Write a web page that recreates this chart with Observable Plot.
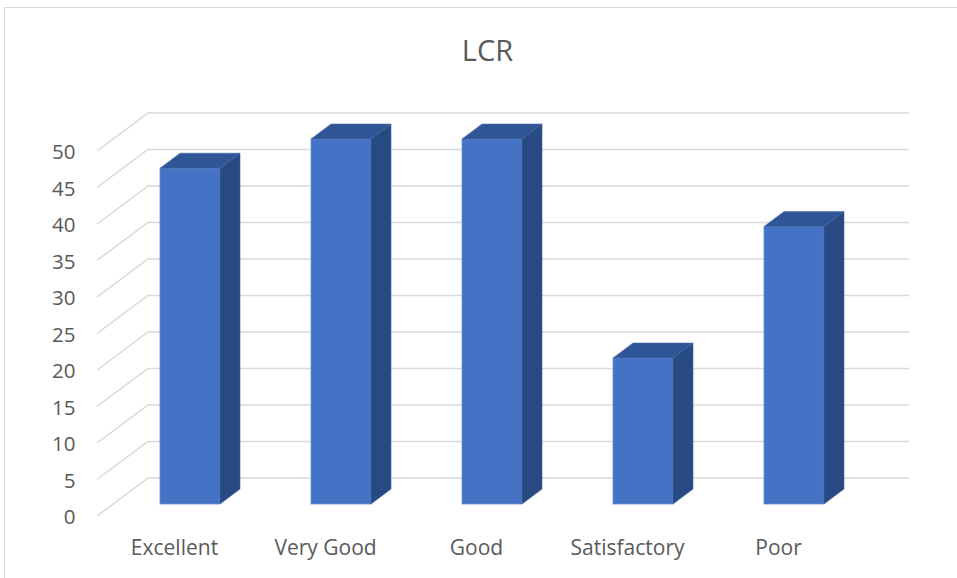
<!DOCTYPE html>
<html>
<head>
<meta charset="utf-8">
<script src="https://cdn.jsdelivr.net/npm/d3@7"></script>
<script src="https://cdn.jsdelivr.net/npm/@observablehq/plot@0.6"></script>
<style>
  html, body { margin: 0; padding: 0; background: #fff; overflow: hidden; }
  #wrap { position: relative; width: 957px; height: 578px; font-family: "Open Sans", sans-serif; }
  #border { position: absolute; left: 4px; top: 7px; width: 980px; height: 600px; border: 1px solid #d9d9d9; box-sizing: border-box; }
  #title { position: absolute; left: 0; width: 975px; top: 30px; text-align: center; font-size: 29px; color: #595959; line-height: 40px; }
  #chart { position: absolute; left: 0; top: 0; }
</style>
</head>
<body>
<div id="wrap">
  <div id="border"></div>
  <div id="chart"></div>
  <div id="title">LCR</div>
</div>
<script>
const categories = ["Excellent", "Very Good", "Good", "Satisfactory", "Poor"];
const values = [46, 50, 50, 20, 38];
const yTicks = [0, 5, 10, 15, 20, 25, 30, 35, 40, 45, 50];

const data = categories.map((c, i) => ({category: c, value: values[i]}));

// 3D perspective offsets (pixels) relative to the bar plane
const FRONT = {dx: -16, dy: 12};
const BACK = {dx: 35, dy: -26};
const DEPTH = {dx: 20, dy: -15};

function gridMark(index, scales, vals, dims) {
  const g = d3.create("svg:g").attr("fill", "none").attr("stroke", "#d9d9d9").attr("stroke-width", 1.5);
  const left = dims.marginLeft;
  const right = dims.width - dims.marginRight;
  for (const t of yTicks) {
    const y = scales.y(t);
    g.append("path").attr("d",
      `M${left + FRONT.dx},${y + FRONT.dy}L${left + BACK.dx},${y + BACK.dy}L${right + BACK.dx + 2},${y + BACK.dy}`);
  }
  return g.node();
}

function sidesMark(index, scales, vals, dims) {
  const g = d3.create("svg:g");
  const bw = scales.x.bandwidth ? scales.x.bandwidth() : 60.7;
  const y0 = scales.y(0);
  data.forEach(d => {
    const xl = scales.x(d.category);
    const xr = xl + bw;
    const yt = scales.y(d.value);
    g.append("path").attr("fill", "#2f5597").attr("stroke", "#4a6fb0").attr("stroke-width", 0.6)
      .attr("d", `M${xl},${yt}L${xr},${yt}L${xr + DEPTH.dx},${yt + DEPTH.dy}L${xl + DEPTH.dx},${yt + DEPTH.dy}Z`);
    g.append("path").attr("fill", "#284a82").attr("stroke", "#3f62a0").attr("stroke-width", 0.6)
      .attr("d", `M${xr},${yt}L${xr + DEPTH.dx},${yt + DEPTH.dy}L${xr + DEPTH.dx},${y0 + DEPTH.dy}L${xr},${y0}Z`);
  });
  return g.node();
}

const chart = Plot.plot({
  width: 957,
  height: 578,
  marginLeft: 113,
  marginRight: 85,
  marginTop: 139,
  marginBottom: 74,
  style: {fontFamily: "'Open Sans', sans-serif", color: "#595959", background: "transparent", overflow: "visible"},
  x: {domain: categories, paddingInner: 0.6, paddingOuter: 0.3, label: null},
  y: {domain: [0, 50], label: null},
  marks: [
    gridMark,
    Plot.barY(data, {x: "category", y: "value", fill: "#4472c4", stroke: "#6a8fd2", strokeWidth: 0.8}),
    sidesMark,
    Plot.axisY({ticks: yTicks, tickSize: 0, tickPadding: 38, dy: 13, fontSize: 20.5, fill: "#595959", label: null}),
    Plot.axisX({tickSize: 0, tickPadding: 36, dx: -16, fontSize: 21, fill: "#595959", label: null})
  ]
});
document.getElementById("chart").appendChild(chart);
</script>
</body>
</html>
